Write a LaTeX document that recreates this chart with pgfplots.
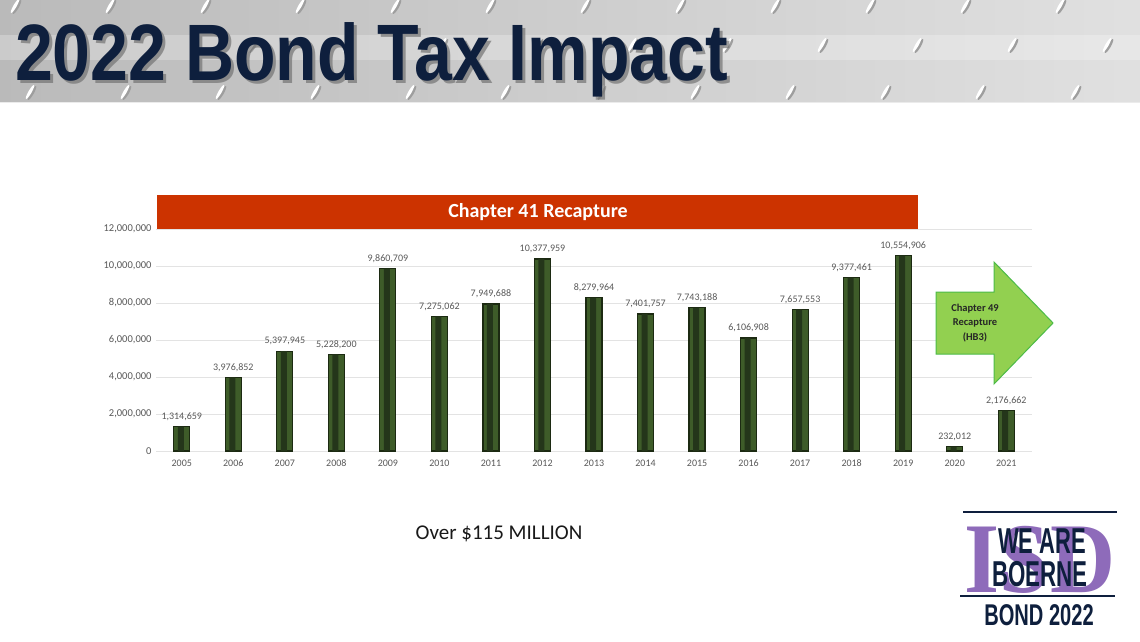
\documentclass[border=0pt]{standalone}
\usepackage{pgfplots}
\pgfplotsset{compat=1.18}
\usepackage{fontspec}
\setmainfont{Carlito}
\newfontfamily\titlefont{Liberation Sans}
\newfontfamily\serifb{Liberation Serif}

\definecolor{navy}{HTML}{0E1F3D}
\definecolor{barfill}{HTML}{3E5C29}
\definecolor{bardark}{HTML}{1C2A12}
\definecolor{barinner}{HTML}{24361A}
\definecolor{labelgrey}{HTML}{595959}
\definecolor{gridgrey}{HTML}{E3E3E3}
\definecolor{banner}{HTML}{CC3300}
\definecolor{arrowfill}{HTML}{92D050}
\definecolor{arrowedge}{HTML}{4CBB47}
\definecolor{isdpurple}{HTML}{8E6BBA}

% recapture paid per year
\pgfplotstableread{
year value label
2005 1314659 {1,314,659}
2006 3976852 {3,976,852}
2007 5397945 {5,397,945}
2008 5228200 {5,228,200}
2009 9860709 {9,860,709}
2010 7275062 {7,275,062}
2011 7949688 {7,949,688}
2012 10377959 {10,377,959}
2013 8279964 {8,279,964}
2014 7401757 {7,401,757}
2015 7743188 {7,743,188}
2016 6106908 {6,106,908}
2017 7657553 {7,657,553}
2018 9377461 {9,377,461}
2019 10554906 {10,554,906}
2020 232012 {232,012}
2021 2176662 {2,176,662}
}\recapture

\begin{document}
\begin{tikzpicture}
\begin{scope}[x=1pt,y=1pt]
\useasboundingbox (0,0) rectangle (1140,-641);
\fill[white] (0,0) rectangle (1140,-641);

% header band (diamond plate look)
\shade[left color=black!27, right color=black!12] (0,0) rectangle (1140,-102);
\fill[white, opacity=0.25] (0,-35) rectangle (1140,-60);
\foreach \r/\yy/\off in {0/-6/15, 1/-45/62, 2/-92/30}{
  \foreach \i in {0,...,12}{
    \pgfmathsetmacro{\xx}{\off+\i*95}
    \fill[black!38, rotate around={60:(\xx+2,\yy-1)}] (\xx+2,\yy-1) ellipse (8 and 1.8);
    \fill[white, rotate around={60:(\xx,\yy)}] (\xx,\yy) ellipse (8 and 1.6);
  }
}
\draw[black!8, line width=1pt] (0,-102) -- (1140,-102);

% title with shadow
\node[anchor=base west, xscale=0.85, text=black!55, opacity=0.7,
      font=\titlefont\bfseries\fontsize{80}{80}\selectfont] at (15,-83) {2022 Bond Tax Impact};
\node[anchor=base west, xscale=0.85, text=navy,
      font=\titlefont\bfseries\fontsize{80}{80}\selectfont] at (12,-80) {2022 Bond Tax Impact};
\end{scope}

\begin{axis}[
    at={(156pt,-451pt)}, anchor=south west,
    scale only axis, width=876pt, height=222pt,
    xmin=2004.5, xmax=2021.5,
    ymin=0, ymax=12000000,
    axis line style={draw=none},
    major tick style={draw=none},
    ymajorgrids, grid style={gridgrey, line width=0.9pt},
    ytick={0,2000000,4000000,6000000,8000000,10000000,12000000},
    yticklabels={0,{2,000,000},{4,000,000},{6,000,000},{8,000,000},{10,000,000},{12,000,000}},
    xtick={2005,2006,2007,2008,2009,2010,2011,2012,2013,2014,2015,2016,2017,2018,2019,2020,2021},
    xticklabels={2005,2006,2007,2008,2009,2010,2011,2012,2013,2014,2015,2016,2017,2018,2019,2020,2021},
    tick label style={font=\fontsize{10.5}{12}\selectfont, text=labelgrey},
    yticklabel style={xshift=-1pt},
    xticklabel style={yshift=-5pt, text height=7pt, text depth=1pt, font=\fontsize{10}{12}\selectfont},
    clip=false,
  ]
  \addplot[ybar, bar width=16pt, bar shift=0pt, fill=barfill, draw=bardark, line width=1.2pt,
    nodes near coords, point meta=explicit symbolic,
    every node near coord/.append style={font=\fontsize{10}{12}\selectfont, text=labelgrey, yshift=2pt}]
    table[x=year, y=value, meta=label] {\recapture};
  \addplot[ybar, bar width=6pt, bar shift=-1pt, fill=barinner, draw=none]
    table[x=year, y=value] {\recapture};
\end{axis}

\begin{scope}[x=1pt,y=1pt]
% Chapter 41 banner
\fill[banner] (157,-195) rectangle (918,-229);
\node[text=white, font=\bfseries\fontsize{20}{24}\selectfont] at (538,-212) {Chapter 41 Recapture};

% Chapter 49 arrow
\draw[fill=arrowfill, draw=arrowedge, line width=1pt]
  (936,-292) -- (994,-292) -- (994,-262) -- (1053,-323) -- (994,-384) -- (994,-354) -- (936,-354) -- cycle;
\node[align=center, text=black!85, font=\bfseries\fontsize{10.5}{14.5}\selectfont] at (975,-323)
  {Chapter 49\\Recapture\\(HB3)};

% caption
\node[anchor=base, font=\fontsize{21}{24}\selectfont, text=black!90] at (499,-539) {Over \$115 MILLION};

% logo
\draw[navy, line width=2pt] (963,-512) -- (1117,-512);
\node[anchor=base, xscale=0.9, text=isdpurple, font=\serifb\bfseries\fontsize{100}{100}\selectfont] at (1040,-592) {ISD};
\node[anchor=base, xscale=0.61, text=navy, font=\titlefont\bfseries\fontsize{36}{36}\selectfont] at (1042,-553) {WE ARE};
\node[anchor=base, xscale=0.62, text=navy, font=\titlefont\bfseries\fontsize{36}{36}\selectfont] at (1040,-586) {BOERNE};
\draw[navy, line width=2pt] (960,-596) -- (1115,-596);
\node[anchor=base, xscale=0.67, text=navy, font=\titlefont\bfseries\fontsize{30}{30}\selectfont] at (1039,-625) {BOND 2022};
\end{scope}
\end{tikzpicture}
\end{document}
